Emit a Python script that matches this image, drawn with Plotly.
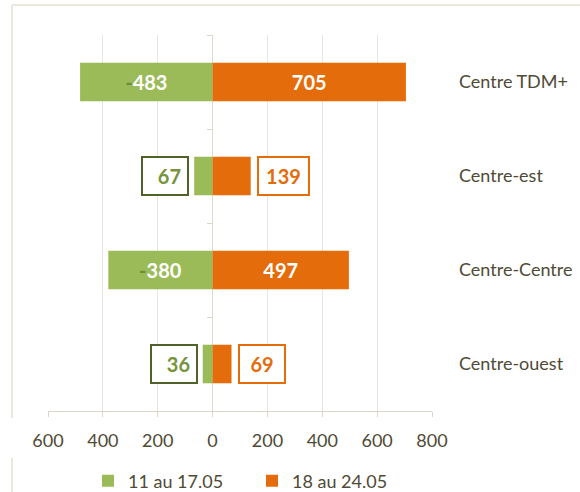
import plotly.graph_objects as go

categories = ["Centre TDM+", "Centre-est", "Centre-Centre", "Centre-ouest"]
week1_label = "11 au 17.05"
week2_label = "18 au 24.05"
week1_values = [-483, -67, -380, -36]
week2_values = [705, 139, 497, 69]
x_tickvals = [-600, -400, -200, 0, 200, 400, 600, 800]
x_ticktext = ["600", "400", "200", "0", "200", "400", "600", "800"]

GREEN = "#9BBB59"
GREEN_DARK = "#4F6228"
GREEN_TEXT = "#77933C"
ORANGE = "#E46C0A"
TXT = "#4f4a36"
GRID = "#e9e7dd"
FONT = "Lato, Open Sans, sans-serif"
THRESH = 200

W, H = 580, 492
ML, MR, MT, MB = 48, 148, 35, 81


def px_x(p):
    return (p - ML) / (W - ML - MR)


def px_y(p):
    return (H - MB - p) / (H - MT - MB)


def inside_text(v):
    if abs(v) < THRESH:
        return ""
    if v < 0:
        return "<span style='color:#6e8c38'>-</span>" + str(abs(v))
    return str(v)


fig = go.Figure()
fig.add_trace(go.Bar(
    y=categories, x=week1_values, orientation="h", name=week1_label,
    marker=dict(color=GREEN, line=dict(width=0)),
    text=[inside_text(v) for v in week1_values], textposition="inside",
    insidetextanchor="middle", textangle=0,
    textfont=dict(family=FONT, size=20, color="white", weight="bold"),
    cliponaxis=False, hoverinfo="skip",
))
fig.add_trace(go.Bar(
    y=categories, x=week2_values, orientation="h", name=week2_label,
    marker=dict(color=ORANGE, line=dict(width=0)),
    text=[inside_text(v) for v in week2_values], textposition="inside",
    insidetextanchor="middle", textangle=0,
    textfont=dict(family=FONT, size=20, color="white", weight="bold"),
    cliponaxis=False, hoverinfo="skip",
))
# invisible trace to carry the zero-axis tick marks
fig.add_trace(go.Scatter(y=categories, x=[0] * len(categories), yaxis="y2",
                         mode="markers", marker=dict(opacity=0), showlegend=False,
                         hoverinfo="skip"))

annotations = []
for cat, v in zip(categories, week1_values):
    if abs(v) < THRESH:
        annotations.append(dict(
            x=v, y=cat, xref="x", yref="y", text="<b>%d</b>" % abs(v),
            showarrow=False, xanchor="right", xshift=-5,
            font=dict(family=FONT, size=20, color=GREEN_TEXT),
            bordercolor=GREEN_DARK, borderwidth=2, borderpad=6,
            bgcolor="white", width=5 * len(str(abs(v))) + 22, height=24,
            align="right"))
for cat, v in zip(categories, week2_values):
    if abs(v) < THRESH:
        annotations.append(dict(
            x=v, y=cat, xref="x", yref="y", text="<b>%d</b>" % v,
            showarrow=False, xanchor="left", xshift=6,
            font=dict(family=FONT, size=20, color=ORANGE),
            bordercolor=ORANGE, borderwidth=2, borderpad=6,
            bgcolor="white", width=5 * len(str(v)) + 22, height=24,
            align="center"))

shapes = [
    dict(type="line", xref="paper", yref="paper", x0=px_x(12), x1=px_x(582),
         y0=px_y(5), y1=px_y(5), line=dict(color="#e3e0d2", width=1.5)),
    dict(type="line", xref="paper", yref="paper", x0=px_x(12), x1=px_x(12),
         y0=px_y(5), y1=px_y(418), line=dict(color="#e3e0d2", width=1.5)),
    dict(type="line", xref="paper", yref="paper", x0=px_x(12), x1=px_x(12),
         y0=px_y(458), y1=px_y(495), line=dict(color="#e3e0d2", width=1.5)),
]

fig.update_layout(
    width=W, height=H, margin=dict(l=ML, r=MR, t=MT, b=MB, autoexpand=False),
    paper_bgcolor="white", plot_bgcolor="white",
    barmode="relative", bargap=0.59,
    font=dict(family=FONT, color=TXT, size=18),
    xaxis=dict(range=[-600, 800], tickvals=x_tickvals, ticktext=x_ticktext,
               showgrid=True, gridcolor=GRID, gridwidth=1,
               zeroline=True, zerolinecolor="#dedbcc", zerolinewidth=1,
               showline=True, linecolor="#dcd8c6", linewidth=1,
               ticks="outside", ticklen=5, tickcolor="#dcd8c6",
               ticklabelstandoff=8, automargin=False,
               tickfont=dict(family=FONT, size=18, color=TXT), fixedrange=True),
    yaxis=dict(categoryorder="array", categoryarray=categories[::-1],
               range=[-0.5, 3.5], automargin=False,
               side="right", showgrid=False, zeroline=False, showline=False,
               ticks="", ticklabelstandoff=26,
               tickfont=dict(family=FONT, size=18, color=TXT), fixedrange=True),
    yaxis2=dict(overlaying="y", anchor="free", position=600 / 1400,
                categoryorder="array", categoryarray=categories[::-1],
                range=[-0.5, 3.5], side="left", showgrid=False, zeroline=False,
                showline=False, ticks="outside", ticklen=6, tickcolor="#dcd8c6",
                tickmode="array", tickvals=[-0.5, 0.5, 1.5, 2.5, 3.5],
                showticklabels=False, fixedrange=True, automargin=False),
    legend=dict(orientation="h", xref="container", yref="container",
                x=88 / W, y=1 - 481 / H, xanchor="left", yanchor="middle",
                font=dict(family=FONT, size=18, color=TXT),
                itemwidth=30, entrywidth=119, traceorder="normal"),
    annotations=annotations, shapes=shapes,
)

fig.write_html("out.html", config={"displayModeBar": False, "staticPlot": True},
               post_script="document.body.style.margin='0';")
